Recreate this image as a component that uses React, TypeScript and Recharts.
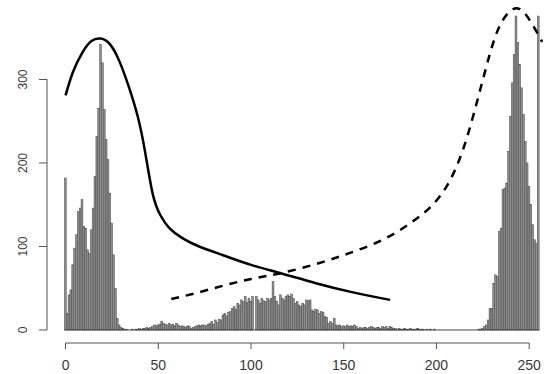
import React from 'react';
import { ComposedChart, Bar, Line, XAxis, YAxis, ReferenceLine } from 'recharts';

// histogram counts for grey levels 0..255
const binCounts = [
  182, 20, 42, 48, 78, 98, 114, 142, 146, 156, 124, 122, 96, 92, 120, 146,
  184, 232, 265, 342, 320, 264, 228, 204, 164, 128, 90, 50, 14, 6, 3, 2,
  1, 1, 0, 0, 1, 0, 1, 1, 2, 1, 2, 2, 3, 2, 3, 4,
  6, 5, 6, 7, 10, 8, 7, 6, 8, 6, 7, 5, 8, 6, 4, 5,
  4, 3, 5, 4, 2, 3, 4, 5, 6, 5, 6, 6, 5, 7, 8, 10,
  7, 12, 9, 13, 12, 18, 20, 17, 21, 22, 26, 28, 25, 32, 30, 36,
  34, 40, 33, 38, 34, 40, 0, 40, 36, 32, 38, 35, 34, 38, 36, 38,
  58, 40, 34, 30, 42, 38, 36, 40, 42, 40, 43, 38, 32, 34, 30, 28,
  32, 30, 36, 35, 36, 24, 22, 25, 24, 20, 22, 21, 16, 15, 8, 10,
  8, 14, 6, 5, 6, 4, 5, 4, 6, 4, 5, 4, 6, 4, 2, 3,
  2, 3, 3, 2, 3, 4, 3, 2, 3, 3, 2, 4, 3, 4, 2, 4,
  3, 2, 2, 1, 2, 1, 1, 2, 1, 1, 2, 1, 1, 1, 2, 1,
  1, 1, 0, 1, 0, 1, 0, 1, 0, 0, 0, 0, 0, 0, 0, 0,
  0, 0, 0, 0, 0, 0, 0, 0, 0, 0, 0, 0, 0, 0, 0, 1,
  1, 2, 4, 6, 12, 26, 26, 56, 66, 64, 118, 122, 168, 170, 176, 214,
  256, 296, 330, 376, 344, 318, 290, 258, 226, 200, 172, 150, 126, 108, 104, 376,
];

// solid curve (left class)
const solidX = [0, 4, 9, 14, 19, 24, 29, 34, 39, 43, 47, 51, 56, 63, 72, 85, 100, 116, 135, 155, 175];
const solidY = [281, 309, 332, 346, 349, 342, 322, 292, 255, 212, 163, 138, 122, 110, 100, 89.5, 78, 68, 56, 45, 36];

// dashed curve (right class)
const dashX = [57, 70, 85, 100, 116, 135, 153, 171, 186, 198, 207, 214, 220, 226, 232, 238, 244, 250, 257];
const dashY = [37, 44, 53, 61, 68, 79, 92, 108, 128, 150, 178, 214, 258, 308, 353, 378, 385, 372, 345];

const xTicks = [0, 50, 100, 150, 200, 250];
const yTicks = [0, 100, 200, 300];

const histData = binCounts.map((count, i) => ({ x: i, count }));
const solidData = solidX.map((x, i) => ({ x, v: solidY[i] }));
const dashData = dashX.map((x, i) => ({ x, v: dashY[i] }));

const W = 547;
const H = 374;
const Y_AXIS_W = 47;
const X_AXIS_H = 31;
const X_MIN = -10;
const X_MAX = 259.6;
const Y_MIN = -15.6;
const Y_MAX = 395.2;
const UNIT_PX = (W - Y_AXIS_W) / (X_MAX - X_MIN);

const axisColor = '#555';
const labelColor = '#383838';
const font = '"Liberation Sans", Arial, sans-serif';

const HistBar = (props: any) => {
  const { x, y, width, height } = props;
  if (!height || height <= 0) return null;
  const cx = x + width / 2;
  return (
    <rect
      x={cx - UNIT_PX / 2}
      y={y}
      width={UNIT_PX}
      height={height}
      fill="#8f8f8f"
      stroke="#4a4a4a"
      strokeWidth={0.5}
    />
  );
};

const YTick = ({ x, y, payload }: any) => (
  <text
    x={x}
    y={y}
    transform={`rotate(-90, ${x}, ${y})`}
    textAnchor="middle"
    fontSize={12}
    fontFamily={font}
    fill={labelColor}
  >
    {payload.value}
  </text>
);

export default function App() {
  return (
    <div style={{ position: 'absolute', left: 0, top: 0, background: '#fff' }}>
      <ComposedChart
        width={W}
        height={H}
        data={histData}
        margin={{ top: 0, right: 0, bottom: 0, left: 0 }}
      >
        <XAxis
          dataKey="x"
          type="number"
          domain={[X_MIN, X_MAX]}
          allowDataOverflow
          ticks={xTicks}
          height={X_AXIS_H}
          axisLine={false}
          tickSize={6}
          tickMargin={11}
          tickLine={{ stroke: axisColor }}
          tick={{ fill: labelColor, fontSize: 14, fontFamily: font }}
        />
        <YAxis
          type="number"
          domain={[Y_MIN, Y_MAX]}
          allowDataOverflow
          ticks={yTicks}
          width={Y_AXIS_W}
          axisLine={false}
          tickSize={8}
          tickMargin={12}
          tickLine={{ stroke: axisColor }}
          tick={<YTick />}
        />
        <ReferenceLine
          segment={[{ x: 0, y: Y_MIN }, { x: 250, y: Y_MIN }]}
          stroke={axisColor}
          ifOverflow="visible"
        />
        <ReferenceLine
          segment={[{ x: X_MIN, y: 0 }, { x: X_MIN, y: 300 }]}
          stroke={axisColor}
          ifOverflow="visible"
        />
        <Bar dataKey="count" barCategoryGap={0} shape={<HistBar />} isAnimationActive={false} />
        <ReferenceLine
          segment={[{ x: -0.5, y: 0 }, { x: 255.5, y: 0 }]}
          stroke="#444"
          ifOverflow="visible"
        />
        <Line
          data={solidData}
          dataKey="v"
          type="natural"
          stroke="#000"
          strokeWidth={2.5}
          dot={false}
          isAnimationActive={false}
        />
        <Line
          data={dashData}
          dataKey="v"
          type="natural"
          stroke="#000"
          strokeWidth={2.5}
          strokeDasharray="8 7"
          dot={false}
          isAnimationActive={false}
        />
      </ComposedChart>
    </div>
  );
}
